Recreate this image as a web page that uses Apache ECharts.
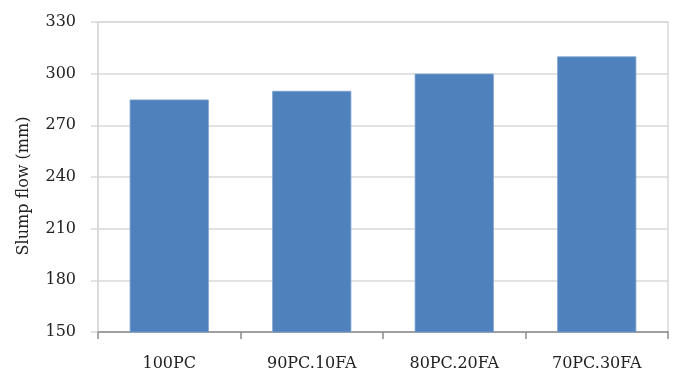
<!DOCTYPE html>
<html>
<head>
<meta charset="utf-8">
<script src="https://cdn.jsdelivr.net/npm/echarts@6/dist/echarts.min.js"></script>
<style>
  html, body { margin: 0; padding: 0; background: #fff; }
  #chart { width: 673px; height: 373px; }
</style>
</head>
<body>
<div id="chart"></div>
<script>
// Mix designations and their measured slump flow (mm)
const mixes = ['100PC', '90PC.10FA', '80PC.20FA', '70PC.30FA'];
const slumpFlow = [285, 290, 300, 310];
const yTicks = { min: 150, max: 330, step: 30 };

const serif = '"DejaVu Serif", "Liberation Serif", serif';
const chart = echarts.init(document.getElementById('chart'));
chart.setOption({
  animation: false,
  grid: {
    left: 98, right: 5, top: 22, bottom: 41,
    show: true, borderColor: '#d9d9d9', borderWidth: 1.5
  },
  xAxis: {
    type: 'category',
    data: mixes,
    axisLine: { lineStyle: { color: '#8c8c8c', width: 1.5 } },
    axisTick: { show: true, length: 7, alignWithLabel: false, lineStyle: { color: '#8c8c8c', width: 1.5 } },
    axisLabel: { color: '#222', fontFamily: serif, fontSize: 16, margin: 24 }
  },
  yAxis: {
    type: 'value',
    min: yTicks.min, max: yTicks.max, interval: yTicks.step,
    name: 'Slump flow (mm)',
    nameLocation: 'middle',
    nameGap: 66,
    nameTextStyle: { color: '#222', fontFamily: serif, fontSize: 16, padding: [0, 18, 0, 0] },
    axisLine: { show: true, lineStyle: { color: '#d9d9d9', width: 1.5 } },
    axisTick: { show: true, length: 7, lineStyle: { color: '#d9d9d9', width: 1.5 } },
    splitLine: { lineStyle: { color: '#d9d9d9', width: 1.5 } },
    axisLabel: { color: '#222', fontFamily: serif, fontSize: 16, margin: 22 }
  },
  series: [{
    type: 'bar',
    data: slumpFlow,
    barCategoryGap: '44.5%',
    itemStyle: { color: '#4f81bd', borderColor: '#7aa0cf', borderWidth: 0.8 }
  }]
});
</script>
</body>
</html>
